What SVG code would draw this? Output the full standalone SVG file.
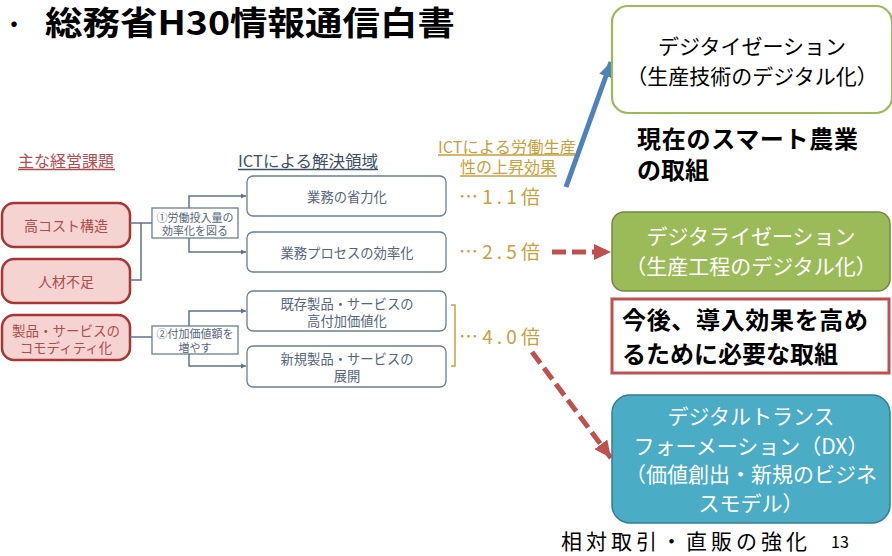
<svg xmlns="http://www.w3.org/2000/svg" width="892" height="556" viewBox="0 0 892 556">
<style>
text{font-family:"Noto Sans CJK JP","Noto Sans",sans-serif;dominant-baseline:central;text-anchor:middle}
.title{font-size:33px;font-weight:bold;fill:#000;text-anchor:start}
.issue rect{fill:#f4d3d1;stroke:#a83434;stroke-width:2.5}
.issue text{font-size:14px;fill:#b04c4c}
.issue text.sm{font-size:13.5px}
.lbl rect{fill:#fff;stroke:#6a7e96;stroke-width:1.3}
.lbl text{font-size:11px;fill:#55667c}
.area rect{fill:#fff;stroke:#6a7e96;stroke-width:1.3}
.area text{font-size:13.3px;fill:#55667c}
.gold{fill:#c9a03c}
.head{font-size:16px}
.eff{font-size:19px;fill:#c9a03c;text-anchor:start}
.conn{fill:none;stroke:#5f7390;stroke-width:1.5}
.big{font-size:21px}
.bold{font-size:24px;font-weight:bold;fill:#000;text-anchor:start}
</style>
<defs>
<marker id="ah" markerUnits="userSpaceOnUse" markerWidth="6" markerHeight="6" refX="5" refY="3" orient="auto"><path d="M0,0.5 L5,3 L0,5.5 z" fill="#5f7390"/></marker>
<marker id="red" markerUnits="userSpaceOnUse" markerWidth="18" markerHeight="16" refX="17" refY="8" orient="auto"><path d="M0,0 L17,8 L0,16 z" fill="#c0504d"/></marker>
<marker id="blue" markerUnits="userSpaceOnUse" markerWidth="16" markerHeight="14" refX="15" refY="7" orient="auto"><path d="M0,0 L15,7 L0,14 z" fill="#4f81bd"/></marker>
</defs>

<g id="title">
<text x="14" y="22" font-size="26" fill="#000">・</text>
<text class="title" x="45" y="21" textLength="410" lengthAdjust="spacingAndGlyphs">総務省H30情報通信白書</text>
</g>

<g id="headers">
<text class="head" x="66" y="160" fill="#b84c4c">主な経営課題</text>
<line x1="18" y1="169.5" x2="115" y2="169.5" stroke="#b84c4c" stroke-width="1.3"/>
<text class="head" x="308" y="160" fill="#3e5068" textLength="140" lengthAdjust="spacingAndGlyphs">ICTによる解決領域</text>
<line x1="238" y1="169.5" x2="378" y2="169.5" stroke="#3e5068" stroke-width="1.3"/>
<text class="head gold"><tspan x="507" y="146" textLength="138" lengthAdjust="spacingAndGlyphs">ICTによる労働生産</tspan><tspan x="508" y="166">性の上昇効果</tspan></text>
<line x1="438" y1="155" x2="576" y2="155" stroke="#c9a03c" stroke-width="1.3"/>
<line x1="460" y1="176" x2="557" y2="176" stroke="#c9a03c" stroke-width="1.3"/>
</g>

<g id="issue1" class="issue"><rect x="2" y="203" width="128" height="44" rx="12"/><text x="66" y="225">高コスト構造</text></g>
<g id="issue2" class="issue"><rect x="2" y="259" width="128" height="44" rx="12"/><text x="66" y="281">人材不足</text></g>
<g id="issue3" class="issue"><rect x="2" y="315" width="128" height="45" rx="12"/><text class="sm"><tspan x="66" y="329.5">製品・サービスの</tspan><tspan x="66" y="346.5">コモディティ化</tspan></text></g>

<g id="connectors">
<path class="conn" d="M130,223 H152 M130,280 H141 V223"/>
<path class="conn" d="M189,208 V196 H246" marker-end="url(#ah)"/>
<path class="conn" d="M189,238 V252 H246" marker-end="url(#ah)"/>
<path class="conn" d="M130,337 H152"/>
<path class="conn" d="M189,326 V311 H246" marker-end="url(#ah)"/>
<path class="conn" d="M189,354 V366 H246" marker-end="url(#ah)"/>
<path d="M451,305 H455 V366 H451" fill="none" stroke="#c9a03c" stroke-width="1.5"/>
<line x1="566" y1="187" x2="611" y2="62" stroke="#4f81bd" stroke-width="5" marker-end="url(#blue)"/>
<line x1="552" y1="252" x2="611" y2="252" stroke="#c0504d" stroke-width="5" stroke-dasharray="14 6" marker-end="url(#red)"/>
<line x1="532" y1="352" x2="611" y2="458" stroke="#c0504d" stroke-width="5" stroke-dasharray="14 6" marker-end="url(#red)"/>
</g>

<g id="label1" class="lbl"><rect x="152" y="208" width="86" height="30"/><text><tspan x="195" y="216.5">①労働投入量の</tspan><tspan x="195" y="230">効率化を図る</tspan></text></g>
<g id="label2" class="lbl"><rect x="152" y="326" width="86" height="28"/><text><tspan x="195" y="333">②付加価値額を</tspan><tspan x="195" y="346.5">増やす</tspan></text></g>

<g id="area1" class="area"><rect x="247" y="176" width="199" height="40" rx="6"/><text x="347" y="196">業務の省力化</text></g>
<g id="area2" class="area"><rect x="247" y="232" width="199" height="40" rx="6"/><text x="347" y="252">業務プロセスの効率化</text></g>
<g id="area3" class="area"><rect x="247" y="291" width="199" height="40" rx="6"/><text><tspan x="347" y="303">既存製品・サービスの</tspan><tspan x="347" y="320">高付加価値化</tspan></text></g>
<g id="area4" class="area"><rect x="247" y="346" width="199" height="41" rx="6"/><text><tspan x="347" y="358">新規製品・サービスの</tspan><tspan x="347" y="375">展開</tspan></text></g>

<g id="effects">
<text class="eff" x="459" y="195" textLength="81" lengthAdjust="spacing">…1.1倍</text>
<text class="eff" x="459" y="250" textLength="81" lengthAdjust="spacing">…2.5倍</text>
<text class="eff" x="459" y="335" textLength="81" lengthAdjust="spacing">…4.0倍</text>
</g>

<g id="digitization">
<rect x="612" y="6" width="280" height="107" rx="16" fill="#fff" stroke="#9bbb59" stroke-width="2.2"/>
<text class="big"><tspan x="752" y="45">デジタイゼーション</tspan><tspan x="752" y="75">（生産技術のデジタル化）</tspan></text>
</g>
<g id="current">
<text class="bold"><tspan x="637" y="137" textLength="221" lengthAdjust="spacing">現在のスマート農業</tspan><tspan x="637" y="168">の取組</tspan></text>
</g>

<g id="digitalization">
<rect x="612" y="212" width="278" height="79" rx="12" fill="#9bbb59" stroke="#71893f" stroke-width="1.5"/>
<text class="big" fill="#fff"><tspan x="751" y="235">デジタライゼーション</tspan><tspan x="751" y="265">（生産工程のデジタル化）</tspan></text>
</g>

<g id="future">
<rect x="612" y="299" width="277" height="74" fill="#fff" stroke="#c0504d" stroke-width="3"/>
<text class="bold"><tspan x="622" y="318" textLength="246" lengthAdjust="spacing">今後、導入効果を高め</tspan><tspan x="622" y="352">るために必要な取組</tspan></text>
</g>

<g id="dx">
<rect x="612" y="395" width="278" height="128" rx="18" fill="#4bacc6" stroke="#357d91" stroke-width="1.5"/>
<text class="big" fill="#fff"><tspan x="751" y="415">デジタルトランス</tspan><tspan x="751" y="445">フォーメーション（DX）</tspan><tspan x="751" y="473">（価値創出・新規のビジネ</tspan><tspan x="751" y="502">スモデル）</tspan></text>
</g>

<g id="footer">
<text x="684" y="540" font-size="21" fill="#000" textLength="246" lengthAdjust="spacing">相対取引・直販の強化</text>
<text x="840" y="541" font-size="16" fill="#000">13</text>
</g>
</svg>
